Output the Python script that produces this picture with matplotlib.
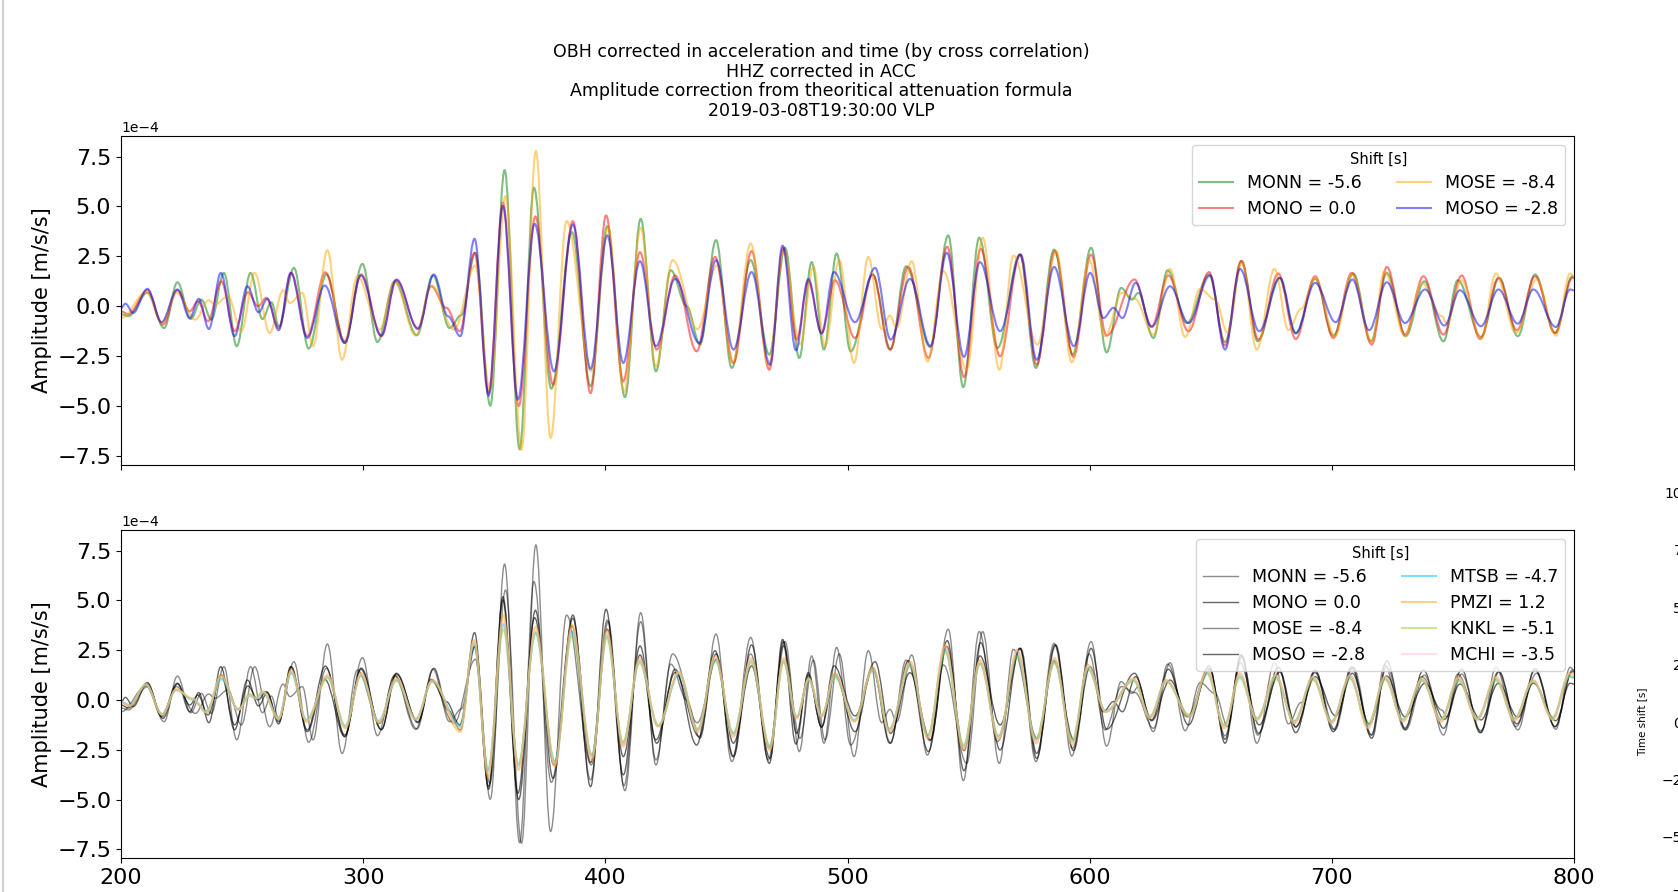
"""Plots OBH and land station VLP records, corrected in acceleration and time."""

import matplotlib
matplotlib.use("Agg")
import matplotlib.pyplot as plt
from matplotlib.path import Path
from matplotlib.patches import PathPatch
from matplotlib.lines import Line2D
from matplotlib.ticker import MultipleLocator
import numpy

# Peaks and troughs, (time [s], amplitude [1e-4 m/s/s]).
MONN = [(200.0, -0.40), (203.0, -0.50), (210.9, 0.67), (217.8, -1.09), (223.3, 1.20),
        (228.8, -0.64), (233.2, 0.33), (237.3, -0.67), (242.5, 1.67), (247.8, -2.00),
        (253.5, 1.67), (258.4, -0.64), (262.1, 0.20), (265.2, -1.00), (271.4, 1.92),
        (277.5, -2.12), (284.8, 1.59), (292.4, -1.84), (299.7, 2.12), (305.9, -1.79),
        (313.0, 1.25), (322.2, -1.45), (328.8, 1.54), (335.7, -1.09), (340.5, -0.45),
        (346.3, 2.68), (352.5, -4.98), (358.4, 6.82), (364.6, -7.16), (370.5, 5.94),
        (377.7, -4.13), (386.2, 3.71), (393.9, -4.01), (400.8, 4.01), (408.1, -4.55),
        (414.6, 4.38), (420.9, -3.26), (427.0, 1.80), (433.6, 0.00), (439.1, -1.92),
        (445.7, 3.31), (452.2, -3.09), (460.0, 2.31), (467.7, -2.42), (474.2, 2.93),
        (480.1, -2.59), (485.2, 2.21), (490.3, -2.17), (495.5, 2.64), (501.3, -2.26),
        (510.4, 1.59), (517.8, -2.17), (524.2, 2.00), (534.1, -2.04), (541.6, 3.55),
        (547.8, -4.05), (554.4, 3.43), (561.9, -2.09), (571.2, 2.59), (577.8, -3.09),
        (585.3, 2.84), (593.0, -2.42), (600.6, 2.93), (607.0, -2.31), (613.0, 0.92),
        (617.4, 0.33), (620.1, 0.67), (626.3, -1.59), (632.2, 1.80), (640.1, -0.84),
        (649.3, 1.59), (655.9, -1.80), (662.8, 2.26), (669.4, -1.76), (678.3, 1.42),
        (685.1, -1.37), (693.1, 1.37), (700.6, -1.47), (708.9, 1.64), (716.2, -1.76),
        (722.7, 1.67), (730.5, -1.50), (738.2, 1.25), (746.1, -1.76), (752.0, 1.30),
        (761.6, -1.54), (769.1, 1.42), (776.8, -1.50), (783.9, 1.59), (792.2, -1.34),
        (799.3, 1.50), (800.0, 1.45)]

MONO = [(200.0, -0.25), (203.0, -0.40), (210.9, 0.80), (217.3, -0.92), (223.3, 0.80),
        (228.4, -0.25), (231.8, 0.25), (235.9, -0.75), (241.4, 1.25), (246.9, -1.25),
        (252.4, 0.70), (256.6, 0.00), (260.0, 0.42), (265.2, -1.09), (270.3, 1.67),
        (276.9, -1.50), (284.4, 1.70), (292.4, -1.76), (299.2, 1.60), (307.5, -1.50),
        (313.7, 1.30), (322.6, -1.09), (328.1, 1.00), (334.3, -0.08), (339.9, -1.25),
        (346.0, 2.68), (351.8, -4.35), (357.7, 5.18), (364.2, -5.00), (371.1, 4.50),
        (378.4, -3.93), (386.6, 4.26), (393.9, -4.35), (400.3, 4.55), (407.4, -3.76),
        (414.3, 2.71), (421.2, -2.17), (428.8, 1.54), (437.7, -2.26), (445.3, 2.47),
        (452.9, -2.84), (460.4, 2.76), (467.7, -3.18), (473.5, 2.93), (479.0, -1.67),
        (483.8, 1.25), (489.3, -1.34), (494.8, 1.30), (503.1, -1.59), (510.4, 1.59),
        (517.5, -2.17), (525.1, 1.97), (533.4, -2.59), (541.2, 2.98), (548.1, -3.55),
        (555.0, 2.88), (563.0, -2.51), (571.2, 2.59), (578.1, -2.93), (585.7, 2.76),
        (593.3, -2.54), (600.6, 2.59), (607.0, -1.47), (618.5, 1.34), (625.6, -1.00),
        (632.5, 1.54), (640.8, -1.25), (649.3, 1.71), (655.9, -1.97), (662.5, 2.26),
        (669.7, -1.67), (677.9, 1.64), (685.1, -1.64), (693.1, 1.50), (700.6, -1.59),
        (708.2, 1.67), (716.5, -1.92), (722.7, 1.97), (730.2, -1.42), (737.8, 1.50),
        (746.1, -1.42), (753.6, 1.54), (761.2, -1.64), (768.8, 1.42), (776.4, -1.20),
        (783.9, 1.50), (792.2, -1.34), (799.3, 1.42), (800.0, 1.40)]

MOSE = [(200.0, -0.59), (210.5, 0.70), (216.9, -0.84), (222.9, 0.67), (230.7, -0.67),
        (236.2, 0.30), (238.7, 0.08), (244.2, 0.50), (249.7, -1.25), (255.2, 1.67),
        (261.4, -1.34), (266.9, 0.80), (269.7, 0.17), (274.9, 0.67), (279.3, -2.00),
        (285.2, 2.81), (291.3, -2.68), (297.6, 1.50), (306.8, -1.17), (313.0, 1.20),
        (321.7, -1.47), (328.1, 1.04), (337.5, -1.17), (346.3, 2.04), (352.3, -4.18),
        (358.8, 5.52), (365.4, -7.19), (371.3, 7.78), (377.4, -6.60), (384.0, 4.26),
        (394.2, -3.26), (401.2, 3.93), (407.7, -4.31), (414.6, 3.93), (420.9, -3.01),
        (427.8, 2.31), (438.0, -1.14), (446.0, 2.04), (452.6, -2.84), (460.0, 3.14),
        (467.3, -3.01), (473.5, 2.71), (480.4, -1.92), (485.9, 2.00), (490.7, -2.00),
        (496.6, 2.31), (502.7, -2.84), (508.6, 2.47), (514.1, -1.14), (517.5, -0.47),
        (520.3, -1.09), (526.5, 2.26), (533.0, -2.76), (539.6, 1.76), (549.2, -3.18),
        (555.8, 3.43), (562.7, -3.18), (568.5, 2.54), (578.4, -1.92), (586.1, 2.76),
        (592.6, -2.81), (599.8, 2.31), (606.4, -1.50), (613.2, 0.67), (618.7, 0.37),
        (626.3, -1.42), (633.2, 1.87), (639.4, -1.54), (645.6, 0.87), (651.8, 0.33),
        (657.0, -1.34), (662.8, 2.17), (669.0, -2.17), (676.3, 1.87), (682.1, -1.20),
        (687.3, -0.13), (693.1, 1.42), (701.3, -1.50), (708.2, 1.59), (716.5, -1.76),
        (721.7, 1.76), (730.2, -1.50), (737.1, 1.17), (745.4, -0.50), (747.4, -0.84),
        (753.6, 1.30), (761.7, -1.64), (767.7, 1.64), (776.0, -1.34), (784.6, 1.34),
        (792.5, -1.47), (798.4, 1.64), (800.0, 1.50)]

MOSO = [(200.0, -0.10), (201.8, 0.13), (205.0, -0.33), (210.9, 0.87), (216.7, -0.80),
        (223.3, 0.84), (228.4, -0.59), (232.1, 0.37), (236.3, -1.14), (241.2, 1.67),
        (246.9, -1.50), (252.2, 1.00), (256.8, -0.30), (260.4, 0.37), (265.1, -1.20),
        (270.1, 1.67), (276.9, -1.59), (284.1, 1.04), (292.4, -1.84), (299.0, 1.54),
        (307.5, -1.47), (313.7, 1.34), (322.6, -1.14), (329.2, 1.59), (335.0, -0.50),
        (340.1, -1.50), (346.0, 3.38), (351.8, -4.48), (357.7, 5.02), (363.9, -4.68),
        (370.8, 4.13), (378.8, -3.26), (386.6, 4.10), (393.9, -3.14), (400.8, 3.55),
        (407.4, -2.84), (414.3, 2.26), (420.9, -2.00), (428.8, 1.37), (438.8, -1.84),
        (445.7, 2.31), (452.9, -2.17), (460.4, 1.71), (468.0, -2.93), (473.2, 3.04),
        (478.7, -2.21), (483.8, 1.37), (489.3, -1.37), (494.4, 1.71), (503.1, -0.80),
        (511.4, 1.92), (517.8, -1.67), (525.8, 1.37), (534.3, -2.00), (541.0, 2.68),
        (548.1, -2.54), (554.7, 2.21), (563.0, -1.25), (571.5, 2.59), (578.1, -2.68),
        (585.3, 1.97), (593.5, -2.00), (600.2, 1.67), (605.7, -0.59), (609.8, -0.08),
        (613.5, -0.59), (619.0, 1.17), (625.6, -1.04), (633.2, 1.00), (640.8, -0.84),
        (649.7, 1.54), (655.9, -2.17), (662.1, 1.87), (670.0, -1.25), (678.6, 1.42),
        (685.1, -1.34), (693.1, 1.17), (701.6, -0.80), (708.5, 1.34), (715.4, -1.20),
        (722.7, 1.20), (730.2, -0.84), (738.5, 0.84), (746.5, -0.97), (752.9, 0.80),
        (761.6, -1.00), (768.8, 0.84), (776.8, -0.87), (783.2, 0.84), (792.5, -1.04),
        (798.4, 0.84), (800.0, 0.80)]

# Land stations (bottom panel), all read at the same peak/trough times.
t_land = [200.0, 203.6, 210.3, 217.0, 222.8, 229.5, 235.3, 241.4, 248.4, 253.2,
          255.8, 258.7, 265.1, 270.3, 276.6, 285.3, 292.6, 299.1, 306.4, 313.7,
          321.8, 328.5, 340.1, 345.8, 351.6, 357.9, 364.1, 371.2, 379.1, 386.2,
          394.5, 400.6, 407.3, 414.1, 421.8, 430.4, 438.1, 445.4, 452.9, 460.2,
          467.9, 473.6, 479.0, 484.0, 489.3, 494.8, 502.8, 510.5, 517.2, 525.9,
          533.2, 540.3, 548.0, 554.7, 562.4, 570.1, 577.8, 585.5, 592.8, 599.3,
          606.6, 618.2, 624.9, 631.6, 641.2, 648.5, 655.6, 662.0, 669.1, 676.8,
          684.5, 692.2, 699.9, 707.5, 714.9, 722.0, 729.3, 737.3, 745.0, 752.3,
          760.0, 767.7, 775.4, 783.1, 791.2, 798.0, 800.0]

MTSB = [-0.10, -0.25, 0.72, -0.70, 0.50, 0.02, -0.55, 1.05, -0.45, 0.20,
        0.05, 0.35, -0.90, 1.35, -1.00, 1.15, -1.30, 1.25, -1.05, 1.00,
        -0.95, 0.95, -1.30, 2.80, -3.55, 3.80, -3.30, 3.40, -3.10, 3.45,
        -2.80, 3.25, -2.20, 1.95, -1.30, 1.30, -1.50, 2.05, -1.70, 1.95,
        -2.35, 1.95, -0.85, 1.00, -0.80, 1.20, -1.00, 1.50, -1.50, 1.75,
        -1.80, 2.50, -2.35, 1.85, -1.85, 2.30, -2.00, 1.90, -2.10, 1.60,
        -0.55, 1.00, -0.85, 0.95, -0.80, 1.40, -1.30, 1.20, -0.95, 1.15,
        -1.10, 1.10, -1.10, 1.15, -1.30, 1.10, -1.00, 1.00, -1.00, 1.05,
        -0.95, 1.05, -0.95, 0.95, -0.90, 1.20, 1.15]

PMZI = [-0.13, -0.30, 0.80, -0.75, 0.54, 0.08, -0.64, 1.25, -0.50, 0.25,
        0.10, 0.42, -0.97, 1.50, -1.09, 1.25, -1.42, 1.34, -1.14, 1.09,
        -1.00, 1.00, -1.59, 3.01, -3.85, 4.26, -3.51, 3.68, -3.34, 3.76,
        -3.01, 3.51, -2.34, 2.09, -1.34, 1.42, -1.59, 2.21, -1.84, 2.09,
        -2.51, 2.09, -0.92, 1.09, -0.84, 1.34, -1.09, 1.64, -1.59, 1.92,
        -1.92, 2.76, -2.51, 2.00, -1.97, 2.51, -2.17, 2.09, -2.26, 1.76,
        -0.59, 1.09, -0.92, 1.00, -0.84, 1.50, -1.42, 1.34, -1.00, 1.25,
        -1.17, 1.17, -1.17, 1.25, -1.42, 1.17, -1.09, 1.09, -1.09, 1.14,
        -1.00, 1.17, -1.04, 1.00, -1.00, 1.34, 1.30]

KNKL = [-0.12, -0.28, 0.75, -0.72, 0.50, 0.05, -0.60, 1.15, -0.48, 0.30,
        0.12, 0.40, -0.92, 1.40, -1.05, 1.10, -1.35, 1.20, -1.10, 0.95,
        -0.95, 0.90, -1.35, 2.90, -3.45, 3.55, -3.20, 3.35, -3.15, 3.20,
        -2.75, 3.10, -2.10, 1.85, -1.25, 1.35, -1.45, 1.95, -1.65, 1.85,
        -2.30, 1.90, -0.85, 1.05, -0.75, 1.15, -1.05, 1.50, -1.45, 1.70,
        -1.75, 2.40, -2.25, 1.80, -1.80, 2.20, -1.95, 1.85, -2.00, 1.55,
        -0.60, 0.95, -0.80, 0.90, -0.75, 1.30, -1.25, 1.10, -0.90, 1.05,
        -1.05, 1.00, -1.05, 1.05, -1.20, 1.00, -0.95, 0.95, -0.95, 0.95,
        -0.90, 0.95, -0.90, 0.90, -0.85, 1.15, 1.10]

MCHI = [-0.12, -0.28, 0.78, -0.74, 0.52, 0.06, -0.62, 1.20, -0.50, 0.22,
        0.08, 0.40, -0.95, 1.45, -1.05, 1.20, -1.38, 1.30, -1.10, 1.05,
        -0.98, 0.98, -1.45, 2.95, -3.70, 4.05, -3.40, 3.55, -3.25, 3.60,
        -2.90, 3.40, -2.28, 2.02, -1.30, 1.38, -1.55, 2.15, -1.80, 2.02,
        -2.45, 2.02, -0.90, 1.05, -0.82, 1.30, -1.05, 1.58, -1.55, 1.85,
        -1.88, 2.65, -2.45, 1.95, -1.92, 2.45, -2.10, 2.02, -2.20, 1.70,
        -0.58, 1.05, -0.90, 0.98, -0.82, 1.45, -1.38, 1.30, -0.98, 1.22,
        -1.15, 1.15, -1.15, 1.22, -1.38, 1.15, -1.05, 1.05, -1.05, 1.10,
        -0.98, 1.12, -1.00, 0.98, -0.96, 1.30, 1.25]

obh_names = ["MONN", "MONO", "MOSE", "MOSO"]
obh_traces = [MONN, MONO, MOSE, MOSO]
obh_shifts = [-5.6, 0.0, -8.4, -2.8]
obh_colors = ["green", "red", "orange", "blue"]
obh_greys = [0.45, 0.6, 0.45, 0.6]  # alpha of black in the bottom panel

land_names = ["MTSB", "PMZI", "KNKL", "MCHI"]
land_traces = [MTSB, PMZI, KNKL, MCHI]
land_shifts = [-4.7, 1.2, -5.1, -3.5]
land_colors = ["deepskyblue", "orange", "yellowgreen", "pink"]

title = ("OBH corrected in acceleration and time (by cross correlation)\n"
         "HHZ corrected in ACC\n"
         "Amplitude correction from theoritical attenuation formula\n"
         "2019-03-08T19:30:00 VLP")


def draw_wave(ax, t, a, label, **style):
    """Draws a trace through its peaks and troughs, with flat tangents at each of them."""
    verts = [(t[0], a[0])]
    codes = [Path.MOVETO]
    for i in range(len(t) - 1):
        d = (t[i + 1] - t[i]) * 0.36
        verts += [(t[i] + d, a[i]), (t[i + 1] - d, a[i + 1]), (t[i + 1], a[i + 1])]
        codes += [Path.CURVE4] * 3
    ax.add_patch(PathPatch(Path(verts, codes), facecolor="none", **style))
    # empty line, only for the legend
    ax.plot([], [], color=style["edgecolor"], alpha=style["alpha"],
            linewidth=style["linewidth"], label=label)


W, H = 1678, 892
fig = plt.figure(figsize=(W / 100, H / 100), dpi=100)

ax1 = fig.add_axes([121 / W, 1 - 464.5 / H, 1453 / W, 328.5 / H])
ax2 = fig.add_axes([121 / W, 1 - 858 / H, 1453 / W, 328 / H], sharex=ax1)

for name, trace, shift, color in zip(obh_names, obh_traces, obh_shifts, obh_colors):
    t = numpy.array([p[0] for p in trace])
    a = numpy.array([p[1] for p in trace]) * 1e-4
    draw_wave(ax1, t, a, "{} = {}".format(name, shift),
              edgecolor=color, alpha=0.5, linewidth=1.5)

for name, trace, shift, grey in zip(obh_names, obh_traces, obh_shifts, obh_greys):
    t = numpy.array([p[0] for p in trace])
    a = numpy.array([p[1] for p in trace]) * 1e-4
    draw_wave(ax2, t, a, "{} = {}".format(name, shift),
              edgecolor="k", alpha=grey, linewidth=1.0)

for name, vals, shift, color in zip(land_names, land_traces, land_shifts, land_colors):
    draw_wave(ax2, numpy.array(t_land), numpy.array(vals) * 1e-4,
              "{} = {}".format(name, shift),
              edgecolor=color, alpha=0.5, linewidth=1.5)

for ax in (ax1, ax2):
    ax.set_xlim(200, 800)
    ax.set_ylim(-7.93e-4, 8.53e-4)
    ax.ticklabel_format(axis="y", style="sci", scilimits=(0, 0))
    ax.set_ylabel("Amplitude [m/s/s]", fontsize=15)
    ax.tick_params(labelsize=16)
    ax.yaxis.get_offset_text().set_fontsize(10)
    ax.legend(title="Shift [s]", ncol=2, loc="upper right", fontsize=12.5,
              title_fontsize=10.5, labelspacing=0.45)

ax1.tick_params(labelbottom=False)

# part of the time shift panel, which sits mostly outside the picture
ax3 = fig.add_axes([1705 / W, 1 - 963 / H, 0.3, 482 / H])
ax3.set_ylim(-10.5, 10.5)
ax3.yaxis.set_major_locator(MultipleLocator(2.5))
ax3.tick_params(labelsize=10)
ax3.set_ylabel("Time shift [s]", fontsize=7.5)

fig.text(821 / W, 1 - 43 / H, title, ha="center", va="top", fontsize=12.5,
         linespacing=1.12)

# edge of the window the figure was shown in
fig.add_artist(Line2D([0.0015, 0.0015], [0, 1], transform=fig.transFigure,
                      color="#d0d0d0", linewidth=1.5))

plt.savefig("out.png", dpi=100)
